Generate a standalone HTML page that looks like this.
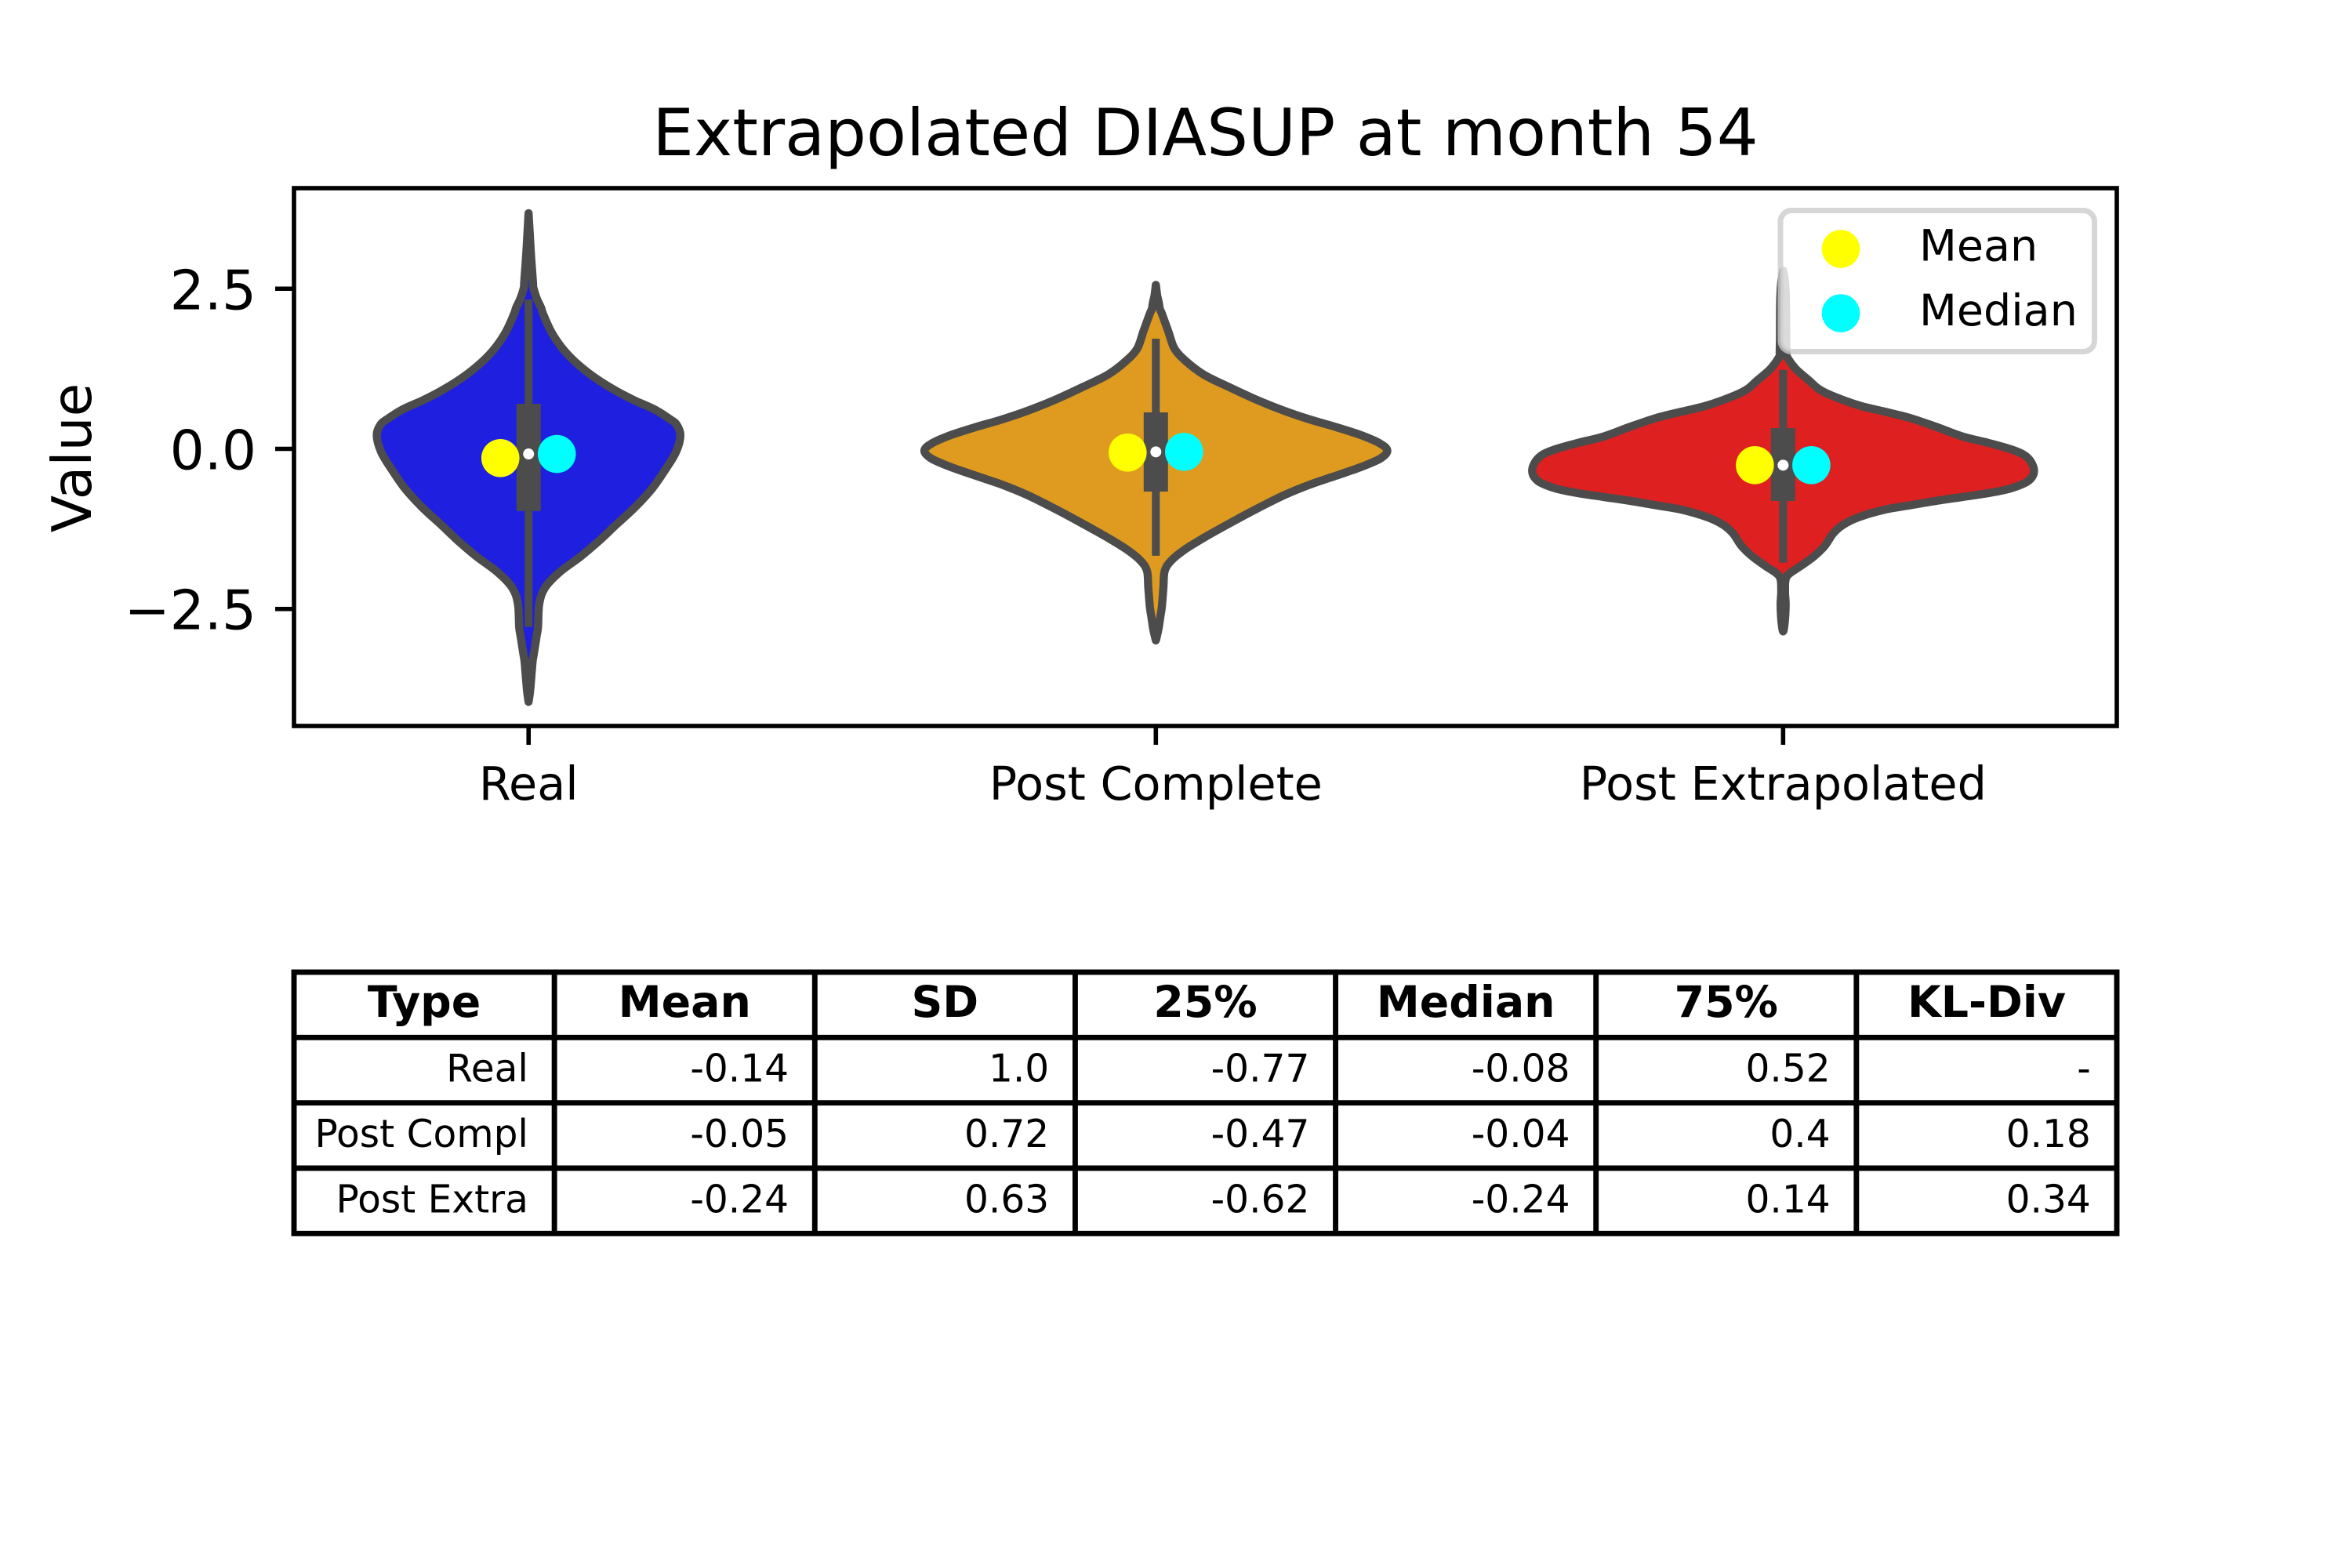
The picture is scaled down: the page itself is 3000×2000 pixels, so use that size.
<!DOCTYPE html>
<html lang="en">
<head>
<meta charset="utf-8">
<title>Extrapolated DIASUP at month 54</title>
<style>
html,body{margin:0;padding:0;background:#fff;}
svg{display:block;}
text{font-family:"DejaVu Sans","Liberation Sans",sans-serif;fill:#000;}
</style>
</head>
<body>
<svg id="chart" xmlns="http://www.w3.org/2000/svg" width="3000" height="2000" viewBox="0 0 3000 2000">
  <rect x="0" y="0" width="3000" height="2000" fill="#fff"/>
  <text x="1537.5" y="198" font-size="83.3" text-anchor="middle">Extrapolated DIASUP at month 54</text>
  <text transform="translate(116 584) rotate(-90)" font-size="69.4" text-anchor="middle">Value</text>
  <g id="plot"></g>
  <rect x="375" y="240" width="2325" height="686" fill="none" stroke="#000" stroke-width="5.6"/>
  <g id="ticks"></g>
  <g>
    <rect x="2271" y="268.5" width="400.5" height="180" rx="14" ry="14" fill="#fff" fill-opacity="0.8" stroke="#ccc" stroke-opacity="0.8" stroke-width="7"/>
    <circle cx="2348" cy="317.5" r="24.3" fill="#ffff00"/>
    <text x="2448" y="332.5" font-size="55.5">Mean</text>
    <circle cx="2348" cy="399.5" r="24.3" fill="#00ffff"/>
    <text x="2448" y="415" font-size="55.5">Median</text>
  </g>
  <g id="table"></g>
</svg>
<script>
/* ---- chart data ---- */
const categories = ['Real', 'Post Complete', 'Post Extrapolated'];
const fillColors = ['#1f1fdf', '#df9b1f', '#df2020'];
const yTickValues = [2.5, 0, -2.5];
const yTickLabels = ['2.5', '0.0', '\u22122.5'];

const realValues = [3.68,3.42,3.00,2.60,2.52,2.36,2.20,2.11,1.83,1.58,1.36,1.13,0.93,0.76,0.62,0.46,0.38,0.21,-0.05,-0.34,-0.62,-0.91,-1.19,-1.44,-1.68,-1.93,-2.17,-2.42,-2.78,-2.91,-3.19,-3.31,-3.48,-3.77,-3.95];
const realDensity = [0,0.0015,0.004,0.007,0.0075,0.0125,0.020,0.023,0.036,0.053,0.074,0.103,0.135,0.168,0.200,0.226,0.236,0.242,0.235,0.217,0.197,0.170,0.139,0.112,0.083,0.049,0.026,0.017,0.015,0.013,0.0085,0.0065,0.005,0.0025,0];

const completeValues = [2.56,2.40,2.29,2.18,2.11,1.83,1.56,1.36,1.15,0.95,0.76,0.60,0.46,0.34,0.21,0.08,-0.03,-0.15,-0.28,-0.42,-0.56,-0.73,-0.93,-1.15,-1.38,-1.58,-1.75,-1.91,-2.17,-2.46,-2.60,-2.79,-2.91,-2.99];
const completeDensity = [0,0.002,0.0045,0.0065,0.0096,0.020,0.030,0.049,0.078,0.120,0.162,0.203,0.245,0.287,0.328,0.358,0.369,0.358,0.328,0.287,0.245,0.203,0.162,0.120,0.078,0.045,0.024,0.014,0.012,0.0096,0.0075,0.0046,0.002,0];

const extraValues = [2.78,2.60,2.29,1.71,1.50,1.44,1.25,1.07,0.93,0.83,0.68,0.58,0.48,0.34,0.19,0.09,-0.03,-0.15,-0.34,-0.50,-0.62,-0.69,-0.75,-0.81,-0.88,-0.95,-1.07,-1.19,-1.32,-1.52,-1.68,-1.83,-1.99,-2.21,-2.42,-2.66,-2.82,-2.85];
const extraDensity = [0,0.003,0.0046,0.005,0.0055,0.006,0.020,0.041,0.0575,0.078,0.120,0.162,0.203,0.245,0.287,0.328,0.370,0.391,0.400,0.391,0.362,0.328,0.287,0.245,0.203,0.162,0.120,0.095,0.080,0.066,0.049,0.028,0.006,0.003,0.004,0.003,0.001,0];

const boxQ1 = [-0.97, -0.667, -0.814];
const boxQ3 = [0.704, 0.569, 0.324];
const whiskerLow = [-2.78, -1.67, -1.777];
const whiskerHigh = [2.33, 1.72, 1.234];
const boxMedian = [-0.08, -0.047, -0.255];
const meanDots = [-0.144, -0.058, -0.255];
const medianDots = [-0.08, -0.047, -0.255];

/* ---- table data ---- */
const tableHeader = ['Type', 'Mean', 'SD', '25%', 'Median', '75%', 'KL-Div'];
const tableRow1 = ['Real', '-0.14', '1.0', '-0.77', '-0.08', '0.52', '-'];
const tableRow2 = ['Post Compl', '-0.05', '0.72', '-0.47', '-0.04', '0.4', '0.18'];
const tableRow3 = ['Post Extra', '-0.24', '0.63', '-0.62', '-0.24', '0.14', '0.34'];

/* ---- axes ---- */
const AX = {left: 375, right: 2700, top: 240, bottom: 926};
const xLim = [-0.374, 2.532];
const yLim = [-4.327, 4.07];
function xPos(c) { return AX.left + (c - xLim[0]) / (xLim[1] - xLim[0]) * (AX.right - AX.left); }
function yPos(v) { return AX.top + (yLim[1] - v) / (yLim[1] - yLim[0]) * (AX.bottom - AX.top); }
function xLen(d) { return d / (xLim[1] - xLim[0]) * (AX.right - AX.left); }

const NS = 'http://www.w3.org/2000/svg';
function mk(parent, tag, attrs, txt) {
  const el = document.createElementNS(NS, tag);
  for (const k in attrs) el.setAttribute(k, attrs[k]);
  if (txt !== undefined) el.textContent = txt;
  parent.appendChild(el);
  return el;
}
function smooth(pts, first) {
  let d = first ? 'M' + pts[0][0].toFixed(1) + ' ' + pts[0][1].toFixed(1) : '';
  for (let i = 0; i < pts.length - 1; i++) {
    const p0 = pts[Math.max(i - 1, 0)], p1 = pts[i], p2 = pts[i + 1], p3 = pts[Math.min(i + 2, pts.length - 1)];
    const c1x = p1[0] + (p2[0] - p0[0]) / 6, c1y = p1[1] + (p2[1] - p0[1]) / 6;
    const c2x = p2[0] - (p3[0] - p1[0]) / 6, c2y = p2[1] - (p3[1] - p1[1]) / 6;
    d += 'C' + c1x.toFixed(1) + ' ' + c1y.toFixed(1) + ' ' + c2x.toFixed(1) + ' ' + c2y.toFixed(1) + ' ' + p2[0].toFixed(1) + ' ' + p2[1].toFixed(1);
  }
  return d;
}
function violinPath(c, vals, dens) {
  const cx = xPos(c);
  const right = vals.map((v, i) => [cx + xLen(dens[i]), yPos(v)]);
  const left = vals.map((v, i) => [cx - xLen(dens[i]), yPos(v)]).reverse();
  return smooth(right, true) + smooth(left, false) + 'Z';
}

/* ---- draw ---- */
const plot = document.getElementById('plot');
const ticks = document.getElementById('ticks');
const table = document.getElementById('table');
const violinValues = [realValues, completeValues, extraValues];
const violinDensity = [realDensity, completeDensity, extraDensity];
const slugs = ['real', 'post-complete', 'post-extrapolated'];

categories.forEach((name, c) => {
  const cx = xPos(c);
  const body = mk(plot, 'path', {d: violinPath(c, violinValues[c], violinDensity[c]), fill: fillColors[c], stroke: '#4c4c4c', 'stroke-width': 10.4, 'stroke-linejoin': 'round'});
  
  

  const whisker = mk(plot, 'line', {x1: cx, x2: cx, y1: yPos(whiskerLow[c]), y2: yPos(whiskerHigh[c]), stroke: '#4c4c4c', 'stroke-width': 10});
  
  

  const box = mk(plot, 'rect', {x: cx - 15.5, width: 31, y: yPos(boxQ3[c]), height: yPos(boxQ1[c]) - yPos(boxQ3[c]), fill: '#4c4c4c'});
  
  

  const medianPoint = mk(plot, 'circle', {cx: cx, cy: yPos(boxMedian[c]), r: 7, fill: '#fff'});
  
  

  const meanDot = mk(plot, 'circle', {cx: xPos(c - 0.045), cy: yPos(meanDots[c]), r: 24.3, fill: '#ffff00'});
  
  

  const medianDot = mk(plot, 'circle', {cx: xPos(c + 0.045), cy: yPos(medianDots[c]), r: 24.3, fill: '#00ffff'});
  
  

  const xTick = mk(ticks, 'line', {x1: cx, x2: cx, y1: AX.bottom, y2: 950, stroke: '#000', 'stroke-width': 5.6});
  
  

  const xLabel = mk(ticks, 'text', {x: cx, y: 1020, 'font-size': 58.8, 'text-anchor': 'middle'}, name);
  
  
});

yTickValues.forEach((v, i) => {
  const y = yPos(v);
  const yTick = mk(ticks, 'line', {x1: 351, x2: AX.left, y1: y, y2: y, stroke: '#000', 'stroke-width': 5.6});
  
  

  const yLabel = mk(ticks, 'text', {x: 327, y: y + 26, 'font-size': 69.4, 'text-anchor': 'end'}, yTickLabels[i]);
  
  
});

/* ---- table ---- */
const tableRows = [tableRow1, tableRow2, tableRow3];
const tLeft = 375, tColW = 2325 / 7, tTop = 1240, tRowH = 83.33;
const tableFrame = mk(table, 'rect', {x: tLeft, y: tTop, width: 2325, height: tRowH * 4, fill: '#fff', stroke: '#000', 'stroke-width': 6.9});


for (let i = 1; i < 7; i++) {
  const vLine = mk(table, 'line', {x1: tLeft + i * tColW, x2: tLeft + i * tColW, y1: tTop, y2: tTop + 4 * tRowH, stroke: '#000', 'stroke-width': 6.9});
  
  
}
for (let i = 1; i < 4; i++) {
  const hLine = mk(table, 'line', {x1: tLeft, x2: tLeft + 7 * tColW, y1: tTop + i * tRowH, y2: tTop + i * tRowH, stroke: '#000', 'stroke-width': 6.9});
  
  
}
tableHeader.forEach((h, j) => {
  const head = mk(table, 'text', {x: tLeft + (j + 0.5) * tColW, y: 1297, 'font-size': 55.3, 'font-weight': 'bold', 'text-anchor': 'middle'}, h);
  
  
});
tableRows.forEach((row, r) => {
  row.forEach((val, j) => {
    const cell = mk(table, 'text', {x: tLeft + (j + 1) * tColW - 33.2, y: 1379.5 + r * 83.4, 'font-size': 48.6, 'text-anchor': 'end'}, val);
    
    
  });
});
</script>
</body>
</html>
